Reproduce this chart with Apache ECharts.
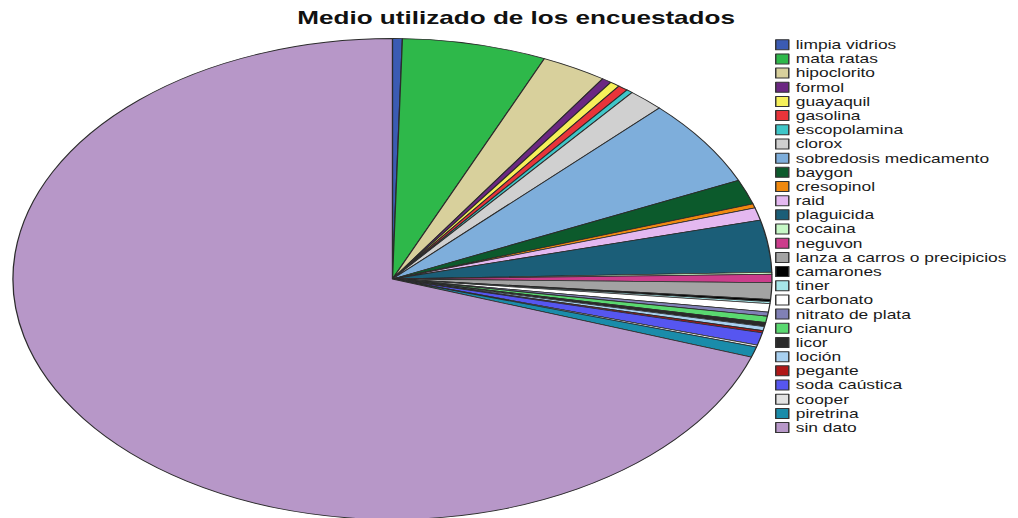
<!DOCTYPE html>
<html>
<head>
<meta charset="utf-8">
<script src="https://cdn.jsdelivr.net/npm/echarts@6/dist/echarts.min.js"></script>
<style>
  html, body { margin: 0; padding: 0; background: #ffffff; overflow: hidden; }
  #stage { position: relative; width: 1018px; height: 518px; overflow: hidden; }
  /* The pie is drawn round and widened into an ellipse; text gets its own widening. */
  #pie  { position: absolute; left: 0; top: 0; width: 646px; height: 518px;
          transform: scaleX(1.578); transform-origin: 0 0; }
  #text { position: absolute; left: 0; top: 0; width: 703px; height: 518px;
          transform: scaleX(1.45); transform-origin: 0 0; }
</style>
</head>
<body>
<div id="stage">
  <div id="pie"></div>
  <div id="text"></div>
</div>
<script>
// Medio utilizado de los encuestados (counts)
const categories = [
  'limpia vidrios', 'mata ratas', 'hipoclorito', 'formol', 'guayaquil',
  'gasolina', 'escopolamina', 'clorox', 'sobredosis medicamento', 'baygon',
  'cresopinol', 'raid', 'plaguicida', 'cocaina', 'neguvon',
  'lanza a carros o precipicios', 'camarones', 'tiner', 'carbonato', 'nitrato de plata',
  'cianuro', 'licor', 'loción', 'pegante', 'soda caústica',
  'cooper', 'piretrina', 'sin dato'
];
const counts = [
  3, 44, 20, 3, 3,
  3, 2, 11, 42, 12,
  2, 6, 25, 1, 4,
  8, 1, 1, 4, 2,
  3, 2, 2, 1, 6,
  1, 5, 500
];
const palette = [
  '#3b5bb3', '#2eb84a', '#d8d09c', '#6b2782', '#f6f05a',
  '#e8343a', '#3ec6c8', '#d0d0d0', '#7eaedb', '#0c5a2c',
  '#f0890f', '#e4b8f0', '#1b5e78', '#c6f8c6', '#cc3d8c',
  '#a3a3a3', '#000000', '#a6e6e8', '#ffffff', '#8080b6',
  '#5ad870', '#2a2a2a', '#a8d0f0', '#b01818', '#5656f0',
  '#e2e2e2', '#1a8caa', '#b797c8'
];

const pieData = categories.map((name, i) => ({
  name: name,
  value: counts[i],
  itemStyle: { color: palette[i] }
}));

const FONT = '"Liberation Sans", Arial, "DejaVu Sans", sans-serif';

// Pie slices
const pieChart = echarts.init(document.getElementById('pie'), null, { renderer: 'svg' });
pieChart.setOption({
  animation: false,
  series: [{
    type: 'pie',
    center: [248.7, 279],
    radius: [0, 240.5],
    startAngle: 90,
    clockwise: true,
    avoidLabelOverlap: false,
    silent: true,
    label: { show: false },
    labelLine: { show: false },
    itemStyle: { borderColor: '#2b2b2b', borderWidth: 0.8 },
    emphasis: { disabled: true },
    data: pieData
  }]
});

// Title and legend
const textChart = echarts.init(document.getElementById('text'), null, { renderer: 'svg' });
textChart.setOption({
  animation: false,
  title: {
    text: 'Medio utilizado de los encuestados',
    left: 205,
    top: 9,
    padding: 0,
    textStyle: { fontFamily: FONT, fontSize: 18, fontWeight: 'bold', color: '#111111' }
  },
  legend: {
    orient: 'vertical',
    left: 534.5,
    top: 38.7,
    padding: 0,
    itemWidth: 9,
    itemHeight: 10,
    itemGap: 2.18,
    icon: 'rect',
    selectedMode: false,
    data: categories,
    itemStyle: { borderColor: '#333333', borderWidth: 1 },
    textStyle: { fontFamily: FONT, fontSize: 12, lineHeight: 12, color: '#1a1a1a', padding: [0, 0, 0, -0.2] }
  },
  series: [{
    type: 'pie',
    center: [-100, -100],
    radius: [0, 0],
    silent: true,
    label: { show: false },
    labelLine: { show: false },
    itemStyle: { borderWidth: 0 },
    data: pieData
  }]
});
</script>
</body>
</html>
